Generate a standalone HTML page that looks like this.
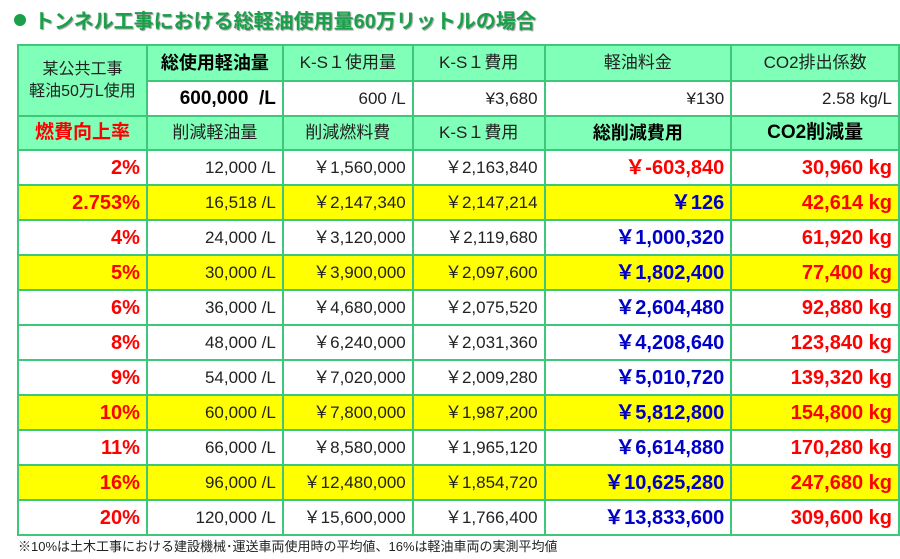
<!DOCTYPE html>
<html><head><meta charset="utf-8"><style>
body{margin:0;width:900px;height:559px;background:#fff;font-family:"Liberation Sans","Noto Sans CJK JP",sans-serif;overflow:hidden;position:relative}
#title{position:absolute;left:14px;top:5px;font-size:20px;font-weight:bold;color:#1aa04a;text-shadow:1px 1px 1px #999;white-space:nowrap}
#title span{display:inline-block;width:12px;height:12px;border-radius:50%;background:#1aa04a;margin-right:8px;vertical-align:2px}
table{position:absolute;left:17px;top:44px;border-collapse:collapse;table-layout:fixed}
td{border:2px solid #3cc878;padding:0 6px;font-size:17px;color:#222;white-space:nowrap;overflow:hidden;vertical-align:middle;line-height:22px}
.g{background:#80ffb8;text-align:center}
.r{text-align:right}
.y td{background:#ffff00}
.d{height:35px}
.red{color:#f00;font-weight:bold;font-size:20px}
.blue{color:#0000c8;font-weight:bold;font-size:20px}
.b{font-weight:bold;color:#000}
#note{position:absolute;left:18px;top:536px;font-size:13px;color:#222;white-space:nowrap}
</style></head><body>
<div id="title"><span></span>トンネル工事における総軽油使用量60万リットルの場合</div>
<table>
<colgroup><col style="width:129px"><col style="width:136px"><col style="width:130px"><col style="width:132px"><col style="width:187px"><col style="width:168px"></colgroup>
<tr style="height:36px"><td class="g" rowspan="2" style="font-size:16px;line-height:22px">某公共工事<br>軽油50万L使用</td><td class="g b" style="font-size:18px">総使用軽油量</td><td class="g">K-S１使用量</td><td class="g">K-S１費用</td><td class="g">軽油料金</td><td class="g">CO2排出係数</td></tr>
<tr style="height:35px"><td class="r b" style="font-size:19px;background:#fff">600,000 &nbsp;/L</td><td class="r">600 /L</td><td class="r">¥3,680</td><td class="r">¥130</td><td class="r">2.58 kg/L</td></tr>
<tr style="height:34px"><td class="g red" style="font-size:19px">燃費向上率</td><td class="g">削減軽油量</td><td class="g">削減燃料費</td><td class="g">K-S１費用</td><td class="g b" style="font-size:18px">総削減費用</td><td class="g b" style="font-size:19px">CO2削減量</td></tr>
<tbody id="body"></tbody>
</table>
<div id="note">※10%は土木工事における建設機械･運送車両使用時の平均値、16%は軽油車両の実測平均値</div>
<script>
const rates=["2%","2.753%","4%","5%","6%","8%","9%","10%","11%","16%","20%"];
const saved=["12,000","16,518","24,000","30,000","36,000","48,000","54,000","60,000","66,000","96,000","120,000"];
const fuelCost=["1,560,000","2,147,340","3,120,000","3,900,000","4,680,000","6,240,000","7,020,000","7,800,000","8,580,000","12,480,000","15,600,000"];
const ksCost=["2,163,840","2,147,214","2,119,680","2,097,600","2,075,520","2,031,360","2,009,280","1,987,200","1,965,120","1,854,720","1,766,400"];
const total=["-603,840","126","1,000,320","1,802,400","2,604,480","4,208,640","5,010,720","5,812,800","6,614,880","10,625,280","13,833,600"];
const co2=["30,960","42,614","61,920","77,400","92,880","123,840","139,320","154,800","170,280","247,680","309,600"];
const yellowRows=[1,3,7,9];
const tb=document.getElementById('body');
rates.forEach((r,i)=>{
 const tr=document.createElement('tr');
 
 
 tr.className='d'+(yellowRows.includes(i)?' y':'');
 const neg=total[i].startsWith('-');
 tr.innerHTML=`<td class="r red">${r}</td><td class="r">${saved[i]} /L</td><td class="r">￥${fuelCost[i]}</td><td class="r">￥${ksCost[i]}</td><td class="r ${neg?'red':'blue'}">￥${total[i]}</td><td class="r red">${co2[i]} kg</td>`;
 tb.appendChild(tr);
});
</script>
</body></html>
